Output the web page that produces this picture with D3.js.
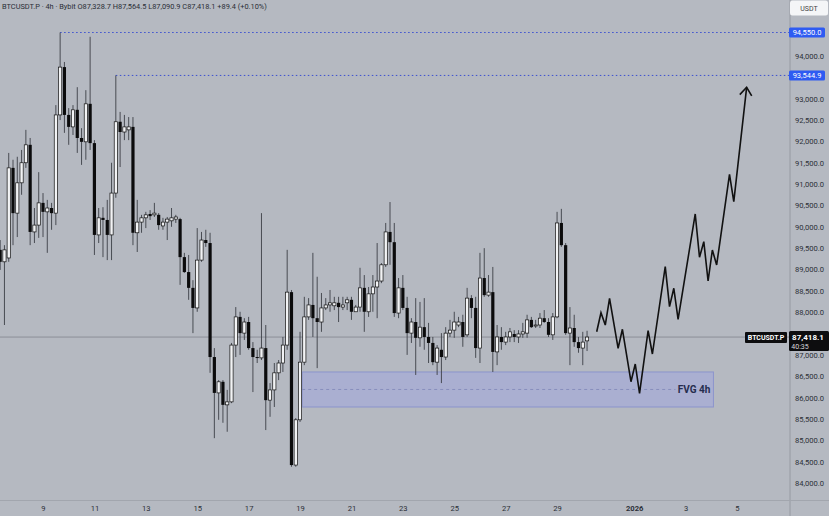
<!DOCTYPE html>
<html>
<head>
<meta charset="utf-8">
<script src="https://cdn.jsdelivr.net/npm/d3@7"></script>
<style>
  body { margin: 0; background: #b5b9c1; }
  svg { display: block; font-family: Roboto, "DejaVu Sans", sans-serif; }
</style>
</head>
<body>
<div class="chart"></div>
<script>
const FRAME_WIDTH = 829;
const FRAME_HEIGHT = 516;
const PLOT = {left: 0, right: 790, top: 0, bottom: 500};

// 4h candles, first one opens at START
const START = "2025-12-07 08:00";

const OPENS = [
  89460, 89180, 89270, 91380, 90320, 91030, 91500, 91920, 89880, 90040,
  90560, 90350, 90440, 90320, 92620, 93740, 92620, 92340, 92740, 92080,
  91990, 92880, 91960, 89810, 90210, 90160, 89810, 90790, 92460, 92220,
  92270, 92340, 89860, 90110, 90210, 90300, 90280, 90280, 90020, 90110,
  90140, 90180, 90180, 89290, 88940, 88570, 88100, 89220, 89690, 89620,
  86950, 86110, 86370, 85830, 85900, 87230, 87890, 87510, 87770, 87160,
  86950, 86930, 87160, 85940, 86180, 86580, 86810, 87230, 88470, 84420,
  85480, 86830, 87890, 88170, 87860, 87770, 88100, 88170, 88150, 88220,
  88120, 88220, 88290, 88010, 88120, 88570, 88010, 88430, 88590, 88730,
  89110, 89880, 89640, 87980, 88570, 88100, 87510, 87770, 87400, 87650,
  87420, 87280, 86830, 87120, 86950, 87510, 87580, 87700, 87770, 87470,
  88330, 88100, 87160, 88800, 88400, 88470, 87070, 87420, 87300, 87420,
  87490, 87420, 87490, 87510, 87820, 87680, 87700, 87860, 87770, 87470,
  87890, 90090, 89570, 87510, 87630, 87300, 87160, 87328.7
];

const HIGHS = [
  89690, 89570, 91730, 91570, 91640, 91800, 92270, 92080, 90440, 91280,
  90790, 90630, 90560, 92850, 94550, 93860, 92780, 92850, 93270, 92310,
  93200, 94450, 92030, 90440, 90460, 90630, 91500, 93544.9, 92690, 92620,
  92570, 92570, 90630, 90280, 90350, 90390, 90560, 90320, 90210, 90230,
  90440, 90280, 90210, 89390, 89340, 88750, 89970, 89880, 89930, 89860,
  87160, 86410, 86410, 86180, 87280, 88120, 88010, 87860, 87890, 87300,
  87120, 90320, 87700, 86340, 86810, 86880, 87420, 89460, 88520, 85520,
  87540, 88360, 88330, 89390, 88830, 88450, 88330, 88520, 88360, 88360,
  88360, 88360, 88360, 88170, 89040, 88870, 88590, 88870, 89620, 89150,
  90090, 90580, 90090, 88800, 88870, 88360, 87860, 88330, 88240, 88330,
  87750, 87420, 87230, 87510, 87650, 87820, 88010, 87890, 87940, 88570,
  88400, 88360, 89390, 89500, 88870, 89060, 87700, 87650, 87540, 87630,
  87580, 87580, 87750, 87940, 87890, 87820, 87980, 88050, 87860, 87980,
  90350, 90420, 89620, 88120, 87940, 87420, 87540, 87564.5
];

const LOWS = [
  88990, 87700, 89180, 89570, 89760, 90750, 91380, 89570, 89620, 89740,
  89760, 89390, 89930, 90040, 92500, 92200, 91920, 92150, 91730, 91450,
  91570, 91800, 89340, 89620, 89290, 89220, 89220, 90680, 91400, 92030,
  92030, 89570, 89410, 89860, 89970, 90160, 90230, 89930, 89930, 89690,
  90000, 90090, 88640, 88920, 88290, 87510, 88010, 89180, 89530, 86580,
  85050, 85480, 85410, 85200, 85870, 86950, 87000, 87350, 87120, 86130,
  86810, 86880, 85240, 85550, 85780, 86410, 86600, 87120, 84380, 84380,
  85430, 86760, 87820, 87420, 86690, 87540, 88050, 88010, 88050, 87770,
  88050, 88050, 87820, 88010, 88010, 87540, 87890, 88010, 87860, 88680,
  89060, 89110, 87890, 87860, 88050, 87000, 87280, 86530, 87190, 87120,
  86810, 86760, 86530, 86340, 86880, 87420, 87400, 87650, 87190, 87420,
  87860, 86930, 86810, 88360, 88360, 86600, 86760, 87120, 87230, 87300,
  87300, 87280, 87400, 87400, 87630, 87630, 87630, 87750, 87420, 87350,
  87860, 89530, 87470, 86760, 87190, 87050, 86760, 87090.9
];

const CLOSES = [
  89180, 89460, 91380, 90320, 91030, 91500, 91920, 89880, 90040, 90560,
  90350, 90440, 90320, 92620, 93740, 92620, 92340, 92740, 92080, 91990,
  92880, 91960, 89810, 90210, 90160, 89810, 90790, 92460, 92220, 92340,
  92340, 89860, 90110, 90210, 90280, 90250, 90320, 90040, 90110, 90180,
  90210, 90230, 89290, 88940, 88570, 88100, 89220, 89690, 89620, 86950,
  86110, 86370, 85830, 85900, 87230, 87890, 87510, 87770, 87160, 86950,
  86930, 87160, 85940, 86180, 86580, 86810, 87230, 88470, 84420, 85480,
  86830, 87890, 88170, 87860, 87770, 88100, 88170, 88220, 88220, 88120,
  88170, 88290, 88010, 88120, 88570, 88010, 88430, 88590, 88730, 89110,
  89880, 89640, 87980, 88570, 88100, 87510, 87770, 87400, 87650, 87420,
  87280, 86830, 87160, 86950, 87510, 87580, 87770, 87770, 87420, 88330,
  88100, 87160, 88800, 88400, 88470, 87070, 87420, 87300, 87420, 87540,
  87420, 87490, 87540, 87820, 87650, 87700, 87860, 87770, 87470, 87890,
  90090, 89570, 87510, 87630, 87300, 87160, 87300, 87418.1
];

// projected path drawn on the chart
const FORECAST_TIMES = [
  "2025-12-30 13:00", "2025-12-30 17:00", "2025-12-30 21:00", "2025-12-31 01:00",
  "2025-12-31 09:00", "2025-12-31 13:00", "2025-12-31 21:00", "2026-01-01 01:00",
  "2026-01-01 05:00", "2026-01-01 13:00", "2026-01-01 17:00", "2026-01-02 05:00",
  "2026-01-02 09:00", "2026-01-02 13:00", "2026-01-02 17:00", "2026-01-03 09:00",
  "2026-01-03 13:00", "2026-01-03 17:00", "2026-01-03 21:00", "2026-01-04 01:00",
  "2026-01-04 05:00", "2026-01-04 17:00", "2026-01-04 21:00", "2026-01-05 09:00"
];
const FORECAST_PRICES = [
  87543, 87988, 87700, 88326, 87155, 87600, 86372, 86787,
  86101, 87567, 87021, 89066, 88129, 88560, 87834, 90300,
  89286, 89651, 88731, 89457, 89106, 91230, 90588, 93267
];

// fair value gap zone
const FVG_TOP = 86600;
const FVG_BOTTOM = 85780;
const FVG_START = "2025-12-19 02:00";
const FVG_END = "2026-01-04 02:00";
const FVG_LABEL = "FVG 4h";

// swing highs marked with dotted lines
const LEVEL_PRICES = [94550, 93544.9];
const LEVEL_STARTS = ["2025-12-09 16:00", "2025-12-11 20:00"];

const Y_TICKS = d3.range(84000, 94001, 500).filter(v => v !== 94500 && v !== 93500 && v !== 87500);
const X_TICKS = ["2025-12-09", "2025-12-11", "2025-12-13", "2025-12-15", "2025-12-17",
                 "2025-12-19", "2025-12-21", "2025-12-23", "2025-12-25", "2025-12-27",
                 "2025-12-29", "2026-01-01", "2026-01-03", "2026-01-05"];

const LAST_PRICE = 87418.1;
const COUNTDOWN = "40:35";
const SYMBOL = "BTCUSDT.P";
const HEADER = ["BTCUSDT.P · 4h · Bybit", "O87,328.7", "H87,564.5", "L87,090.9", "C87,418.1", "+89.4 (+0.10%)"];

const parseTime = d3.timeParse("%Y-%m-%d %H:%M");
const parseDay = d3.timeParse("%Y-%m-%d");
const t0 = parseTime(START);

const candles = CLOSES.map((c, i) => ({
  t: d3.timeHour.offset(t0, 4 * i),
  o: OPENS[i], h: HIGHS[i], l: LOWS[i], c: c
}));

const X_SCALE = d3.scaleTime()
  .domain([parseDay("2025-12-09"), parseDay("2026-01-05")])
  .range([43, 737]);
const Y_SCALE = d3.scaleLinear()
  .domain([84000, 94000])
  .range([483, 56]);

const SVG = d3.select(".chart").append("svg")
  .attr("width", FRAME_WIDTH)
  .attr("height", FRAME_HEIGHT);

SVG.append("rect").attr("width", FRAME_WIDTH).attr("height", FRAME_HEIGHT).attr("fill", "#b5b9c1");

SVG.append("defs").append("clipPath").attr("id", "plot-clip")
  .append("rect").attr("x", PLOT.left).attr("y", PLOT.top)
  .attr("width", PLOT.right - PLOT.left).attr("height", PLOT.bottom - PLOT.top);

const PLOT_G = SVG.append("g").attr("clip-path", "url(#plot-clip)");

// FVG zone
const fx0 = X_SCALE(parseTime(FVG_START)), fx1 = X_SCALE(parseTime(FVG_END));
PLOT_G.append("rect")
  .attr("x", fx0).attr("y", Y_SCALE(FVG_TOP))
  .attr("width", fx1 - fx0).attr("height", Y_SCALE(FVG_BOTTOM) - Y_SCALE(FVG_TOP))
  .attr("fill", "#a3aadb").attr("fill-opacity", 0.62)
  .attr("stroke", "#8c94cc").attr("stroke-width", 1);
PLOT_G.append("line")
  .attr("x1", fx0).attr("x2", fx1 - 38)
  .attr("y1", Y_SCALE((FVG_TOP + FVG_BOTTOM) / 2)).attr("y2", Y_SCALE((FVG_TOP + FVG_BOTTOM) / 2))
  .attr("stroke", "#7f87b8").attr("stroke-width", 0.8).attr("stroke-dasharray", "3,3");
PLOT_G.append("text")
  .attr("x", fx1 - 3).attr("y", Y_SCALE((FVG_TOP + FVG_BOTTOM) / 2) + 3.5)
  .attr("text-anchor", "end").attr("font-size", "10px").attr("font-weight", "bold")
  .attr("fill", "#262d4f").text(FVG_LABEL);

// current price line
PLOT_G.append("line")
  .attr("x1", PLOT.left).attr("x2", PLOT.right)
  .attr("y1", Y_SCALE(LAST_PRICE)).attr("y2", Y_SCALE(LAST_PRICE))
  .attr("stroke", "#80848c").attr("stroke-width", 0.8);

// dotted swing-high levels
LEVEL_PRICES.forEach((p, i) => {
  PLOT_G.append("line")
    .attr("x1", X_SCALE(parseTime(LEVEL_STARTS[i]))).attr("x2", PLOT.right)
    .attr("y1", Y_SCALE(p)).attr("y2", Y_SCALE(p))
    .attr("stroke", "#3b4fd0").attr("stroke-width", 1)
    .attr("stroke-dasharray", "1.5,2.5");
});

// candles
const CANDLE_G = PLOT_G.append("g");
CANDLE_G.selectAll("line.wick")
  .data(candles).enter().append("line")
  .attr("class", "wick")
  .attr("x1", d => X_SCALE(d.t)).attr("x2", d => X_SCALE(d.t))
  .attr("y1", d => Y_SCALE(d.h)).attr("y2", d => Y_SCALE(d.l))
  .attr("stroke", "#3c3f46").attr("stroke-width", 0.9);

CANDLE_G.selectAll("rect.body")
  .data(candles).enter().append("rect")
  .attr("class", "body")
  .attr("x", d => X_SCALE(d.t) - 1.6)
  .attr("width", 3.2)
  .attr("y", d => Y_SCALE(Math.max(d.o, d.c)))
  .attr("height", d => Math.max(1, Math.abs(Y_SCALE(d.o) - Y_SCALE(d.c))))
  .attr("fill", d => d.c >= d.o ? "#f2f3f5" : "#0b0b0c")
  .attr("stroke", "#111")
  .attr("stroke-width", d => d.c >= d.o ? 0.7 : 0);

// forecast zig-zag
const defs = SVG.select("defs");
defs.append("marker")
  .attr("id", "arrow").attr("markerUnits", "userSpaceOnUse")
  .attr("viewBox", "-10 -8 12 16").attr("refX", 0).attr("refY", 0)
  .attr("markerWidth", 12).attr("markerHeight", 16).attr("orient", "auto")
  .append("path").attr("d", "M-8,-6L0,0L-8,6")
  .attr("fill", "none").attr("stroke", "#111").attr("stroke-width", 1.6);

const forecast = FORECAST_TIMES.map((t, i) => [parseTime(t), FORECAST_PRICES[i]]);
PLOT_G.append("path")
  .datum(forecast)
  .attr("d", d3.line().x(d => X_SCALE(d[0])).y(d => Y_SCALE(d[1])))
  .attr("fill", "none").attr("stroke", "#111").attr("stroke-width", 1.6)
  .attr("stroke-linejoin", "miter")
  .attr("marker-end", "url(#arrow)");

// panel separators
SVG.append("line").attr("x1", PLOT.right).attr("x2", PLOT.right).attr("y1", 0).attr("y2", FRAME_HEIGHT)
  .attr("stroke", "#969aa2").attr("stroke-width", 1);
SVG.append("line").attr("x1", 0).attr("x2", FRAME_WIDTH).attr("y1", PLOT.bottom + 0.5).attr("y2", PLOT.bottom + 0.5)
  .attr("stroke", "#a2a6ae").attr("stroke-width", 1);

// right price axis
const yAxis = SVG.append("g")
  .attr("transform", "translate(" + 824 + ",0)")
  .call(d3.axisLeft(Y_SCALE).tickValues(Y_TICKS).tickFormat(d3.format(",.1f")).tickSize(0).tickPadding(0));
yAxis.select(".domain").remove();
yAxis.selectAll("text").attr("font-size", "7.6px").attr("fill", "#2c3038").attr("font-family", "Roboto, sans-serif");

// bottom time axis
const xAxis = SVG.append("g")
  .attr("transform", "translate(0," + 505.5 + ")")
  .call(d3.axisBottom(X_SCALE)
    .tickValues(X_TICKS.map(parseDay))
    .tickFormat(d => d.getMonth() === 0 && d.getDate() === 1 ? "2026" : d3.timeFormat("%-d")(d))
    .tickSize(0).tickPadding(0));
xAxis.select(".domain").remove();
xAxis.selectAll("text").attr("font-size", "7.6px").attr("fill", "#2c3038").attr("font-family", "Roboto, sans-serif")
  .attr("font-weight", d => d.getMonth() === 0 && d.getDate() === 1 ? "bold" : "normal");

// level labels on axis
LEVEL_PRICES.forEach(p => {
  const yy = Y_SCALE(p);
  SVG.append("rect").attr("x", 789).attr("y", yy - 5).attr("width", 36).attr("height", 10)
    .attr("rx", 1.5).attr("fill", "#2e5bf2");
  SVG.append("text").attr("x", 807).attr("y", yy + 2.6).attr("text-anchor", "middle")
    .attr("font-size", "7.5px").attr("fill", "#fff").text(d3.format(",.1f")(p));
});

// last price label + countdown
const ly = Y_SCALE(LAST_PRICE);
SVG.append("rect").attr("x", 789).attr("y", ly - 6).attr("width", 40).attr("height", 20)
  .attr("rx", 1.5).attr("fill", "#0d0d0f");
SVG.append("text").attr("x", 808).attr("y", ly + 2.5).attr("text-anchor", "middle")
  .attr("font-size", "8px").attr("font-weight", "bold").attr("fill", "#fff").text(d3.format(",.1f")(LAST_PRICE));
SVG.append("text").attr("x", 800).attr("y", ly + 11.5).attr("text-anchor", "middle")
  .attr("font-size", "7px").attr("fill", "#d8d8dc").text(COUNTDOWN);

SVG.append("rect").attr("x", 745).attr("y", ly - 5).attr("width", 42).attr("height", 11)
  .attr("rx", 1).attr("fill", "#0d0d0f");
SVG.append("text").attr("x", 766).attr("y", ly + 2.6).attr("text-anchor", "middle")
  .attr("font-size", "7px").attr("font-weight", "bold").attr("fill", "#fff").text(SYMBOL);

// currency box
SVG.append("rect").attr("x", 790).attr("y", 0.5).attr("width", 38).attr("height", 15)
  .attr("rx", 2.5).attr("fill", "#f4f5f7");
SVG.append("text").attr("x", 809).attr("y", 10.5).attr("text-anchor", "middle")
  .attr("font-size", "7px").attr("fill", "#444").text("USDT");

// header
SVG.append("text").attr("x", 2).attr("y", 8.5)
  .attr("font-size", "7.4px").attr("fill", "#2a2e36")
  .text(HEADER.join("  "));
</script>
</body>
</html>
